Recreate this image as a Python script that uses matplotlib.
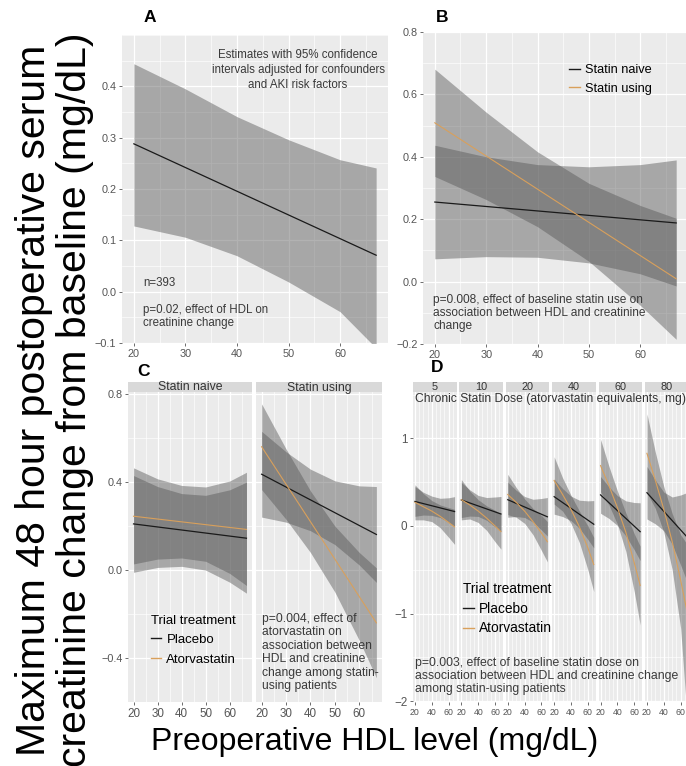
import matplotlib
matplotlib.use('Agg')
import matplotlib.pyplot as plt
from matplotlib.ticker import MultipleLocator
from matplotlib.lines import Line2D

plt.rcParams['font.family'] = ['Liberation Sans', 'DejaVu Sans']

W, H = 686, 766

# HDL positions at which the curves were read
hdl = [20, 30, 40, 50, 60, 67]
hdl_ends = [20, 67]

# panel A
a_line = [0.288, 0.071]
a_upper = [0.444, 0.395, 0.341, 0.296, 0.257, 0.241]
a_lower = [0.128, 0.106, 0.070, 0.019, -0.039, -0.11]

# panel B
b_labels = ['Statin naive', 'Statin using']
b_naive_line = [0.255, 0.188]
b_naive_upper = [0.437, 0.400, 0.375, 0.368, 0.375, 0.390]
b_naive_lower = [0.073, 0.080, 0.078, 0.060, 0.025, -0.014]
b_using_line = [0.509, 0.009]
b_using_upper = [0.681, 0.543, 0.416, 0.315, 0.244, 0.203]
b_using_lower = [0.337, 0.263, 0.176, 0.065, -0.076, -0.185]

# panel C
c_facets = ['Statin naive', 'Statin using']
treatments = ['Placebo', 'Atorvastatin']
c_plac_line = [[0.21, 0.145], [0.436, 0.162]]
c_plac_upper = [[0.43, 0.38, 0.348, 0.34, 0.365, 0.40],
                [0.631, 0.538, 0.459, 0.406, 0.383, 0.380]]
c_plac_lower = [[-0.01, 0.012, 0.017, 0.0, -0.055, -0.105],
                [0.241, 0.218, 0.179, 0.116, 0.023, -0.056]]
c_ator_line = [[0.245, 0.185], [0.561, -0.240]]
c_ator_upper = [[0.465, 0.415, 0.385, 0.378, 0.405, 0.445],
                [0.756, 0.551, 0.360, 0.200, 0.080, 0.010]]
c_ator_lower = [[0.028, 0.05, 0.055, 0.04, -0.015, -0.07],
                [0.366, 0.231, 0.080, -0.100, -0.320, -0.490]]

# panel D
doses = ['5', '10', '20', '40', '60', '80']
d_plac_line = [[0.28, 0.165], [0.297, 0.137], [0.30, 0.105],
               [0.335, 0.02], [0.355, -0.065], [0.38, -0.12]]
d_plac_upper = [[0.45, 0.385, 0.341, 0.316, 0.322, 0.335],
                [0.497, 0.413, 0.349, 0.325, 0.331, 0.337],
                [0.50, 0.408, 0.337, 0.305, 0.314, 0.325],
                [0.535, 0.428, 0.341, 0.294, 0.287, 0.29],
                [0.565, 0.446, 0.346, 0.287, 0.268, 0.265],
                [0.68, 0.524, 0.387, 0.331, 0.354, 0.38]]
d_plac_lower = [[0.11, 0.125, 0.121, 0.096, 0.042, -0.005],
                [0.097, 0.113, 0.109, 0.065, -0.009, -0.063],
                [0.10, 0.108, 0.097, 0.045, -0.046, -0.115],
                [0.135, 0.108, 0.061, -0.026, -0.153, -0.25],
                [0.145, 0.086, 0.006, -0.113, -0.272, -0.395],
                [0.08, 0.024, -0.053, -0.209, -0.446, -0.62]]
d_ator_line = [[0.27, 0.22, 0.17, 0.11, 0.04, -0.01],
               [0.30, 0.24, 0.17, 0.09, 0.0, -0.065],
               [0.36, 0.27, 0.17, 0.05, -0.08, -0.18],
               [0.52, 0.36, 0.19, -0.01, -0.25, -0.44],
               [0.69, 0.46, 0.21, -0.07, -0.42, -0.68],
               [0.83, 0.52, 0.19, -0.18, -0.62, -0.95]]
d_ator_upper = [[0.47, 0.37, 0.29, 0.24, 0.21, 0.19],
                [0.53, 0.40, 0.30, 0.23, 0.18, 0.135],
                [0.59, 0.44, 0.31, 0.20, 0.12, 0.05],
                [0.79, 0.55, 0.35, 0.17, 0.0, -0.13],
                [0.99, 0.68, 0.40, 0.15, -0.09, -0.23],
                [1.28, 0.84, 0.45, 0.14, -0.10, -0.20]]
d_ator_lower = [[0.07, 0.07, 0.05, -0.02, -0.13, -0.21],
                [0.07, 0.08, 0.04, -0.05, -0.18, -0.265],
                [0.13, 0.10, 0.03, -0.10, -0.28, -0.41],
                [0.25, 0.17, 0.03, -0.19, -0.50, -0.75],
                [0.39, 0.24, 0.02, -0.29, -0.75, -1.13],
                [0.38, 0.20, -0.07, -0.50, -1.17, -2.10]]

BG = '#ebebeb'
BAND = '#555555'
BLACK = '#1a1a1a'
ORANGE = '#d9a05b'
TICK = '#555555'
TXT = '#3a3a3a'
XLIM = (17.7, 69.3)

fig = plt.figure(figsize=(W / 100, H / 100), dpi=100)


def add_ax(x0, y0, x1, y1):
    return fig.add_axes([x0 / W, 1 - y1 / H, (x1 - x0) / W, (y1 - y0) / H])


def style(ax, xmaj, xmin, ymaj, ymin, xsize=7.8, ysize=7.8):
    ax.set_facecolor(BG)
    for s in ax.spines.values():
        s.set_visible(False)
    ax.xaxis.set_major_locator(MultipleLocator(xmaj))
    ax.xaxis.set_minor_locator(MultipleLocator(xmin))
    ax.yaxis.set_major_locator(MultipleLocator(ymaj))
    ax.yaxis.set_minor_locator(MultipleLocator(ymin))
    ax.grid(which='major', color='white', lw=0.9)
    ax.grid(which='minor', color='white', lw=0.45)
    ax.set_axisbelow(True)
    ax.tick_params(which='major', length=2.5, width=0.6, color=TICK, pad=1.5)
    ax.tick_params(axis='x', labelsize=xsize, labelcolor=TICK)
    ax.tick_params(axis='y', labelsize=ysize, labelcolor=TICK)
    ax.tick_params(which='minor', length=0)
    ax.set_xlim(*XLIM)


def band(ax, lo, hi):
    ax.fill_between(hdl, lo, hi, color=BAND, alpha=0.45, lw=0)


def strip(x0, x1, label, size=8.8):
    s = add_ax(x0, 382, x1, 392)
    s.set_facecolor('#d9d9d9')
    s.set_xticks([])
    s.set_yticks([])
    for sp in s.spines.values():
        sp.set_visible(False)
    s.text(0.5, 0.45, label, transform=s.transAxes, ha='center', va='center',
           fontsize=size, color='#333333')


def ftext(x, y, s, **kw):
    kw.setdefault('fontsize', 8.5)
    kw.setdefault('color', TXT)
    fig.text(x / W, 1 - y / H, s, **kw)


def treat_legend(x, y, spacing, size):
    handles = [Line2D([], [], color=BLACK, lw=1), Line2D([], [], color=ORANGE, lw=1)]
    fig.legend(handles, treatments, title='Trial treatment', loc='upper left',
               bbox_to_anchor=(x / W, 1 - y / H), frameon=False, fontsize=size,
               title_fontsize=size, alignment='left', handlelength=0.8,
               handletextpad=0.4, borderpad=0, labelspacing=spacing)


# ---- A ----
ax = add_ax(122, 35, 388, 343)
style(ax, 10, 5, 0.1, 0.05)
ax.set_ylim(-0.1, 0.5)
ax.set_yticks([-0.1, 0.0, 0.1, 0.2, 0.3, 0.4])
band(ax, a_lower, a_upper)
ax.plot(hdl_ends, a_line, color=BLACK, lw=0.9)

# ---- B ----
ax = add_ax(423, 32, 688, 344)
style(ax, 10, 5, 0.2, 0.1)
ax.set_ylim(-0.2, 0.8)
band(ax, b_naive_lower, b_naive_upper)
band(ax, b_using_lower, b_using_upper)
ax.plot(hdl_ends, b_naive_line, color=BLACK, lw=0.9)
ax.plot(hdl_ends, b_using_line, color=ORANGE, lw=0.8)
handles = [Line2D([], [], color=BLACK, lw=1), Line2D([], [], color=ORANGE, lw=1)]
ax.legend(handles, b_labels, loc='upper left', bbox_to_anchor=(563 / W, 1 - 58 / H),
          bbox_transform=fig.transFigure, frameon=False, fontsize=9.2,
          handlelength=0.8, handletextpad=0.4, borderpad=0, labelspacing=0.5)

# ---- C ----
c_cols = [(128, 252), (256, 382)]
for i, (x0, x1) in enumerate(c_cols):
    ax = add_ax(x0, 392, x1, 702)
    style(ax, 10, 5, 0.4, 0.2, xsize=8.4)
    ax.set_ylim(-0.6, 0.81)
    band(ax, c_plac_lower[i], c_plac_upper[i])
    band(ax, c_ator_lower[i], c_ator_upper[i])
    ax.plot(hdl_ends, c_plac_line[i], color=BLACK, lw=0.9)
    ax.plot(hdl_ends, c_ator_line[i], color=ORANGE, lw=0.8)
    if i > 0:
        ax.tick_params(axis='y', left=False, labelleft=False)
    strip(x0, x1, c_facets[i])
treat_legend(144, 608, 0.55, 9.5)

# ---- D ----
for i, dose in enumerate(doses):
    x0 = 413 + i * 46.4
    x1 = x0 + 43.5
    ax = add_ax(x0, 392, x1, 702)
    style(ax, 20, 5, 1, 0.5, xsize=6.3, ysize=8.4)
    ax.set_ylim(-2.01, 1.53)
    band(ax, d_plac_lower[i], d_plac_upper[i])
    band(ax, d_ator_lower[i], d_ator_upper[i])
    ax.plot(hdl_ends, d_plac_line[i], color=BLACK, lw=0.9)
    ax.plot(hdl, d_ator_line[i], color=ORANGE, lw=0.8)
    ax.set_xticks([20, 40, 60])
    if i > 0:
        ax.tick_params(axis='y', left=False, labelleft=False)
    strip(x0, x1, dose, size=7.8)
treat_legend(456, 575, 0.42, 9.9)

# ---- annotations ----
ftext(298, 70, 'Estimates with 95% confidence\nintervals adjusted for confounders\nand AKI risk factors',
      ha='center', va='center', multialignment='center', fontsize=8.3, linespacing=1.3)
ftext(143, 283, 'n=393', ha='left', va='center', fontsize=8.3)
ftext(143, 316.5, 'p=0.02, effect of HDL on\ncreatinine change', ha='left', va='center',
      fontsize=8.3, linespacing=1.1)
ftext(433, 313, 'p=0.008, effect of baseline statin use on\nassociation between HDL and creatinine\nchange',
      ha='left', va='center', fontsize=8.6, linespacing=1.1)
ftext(262, 652.5, 'p=0.004, effect of\natorvastatin on\nassociation between\nHDL and creatinine\n'
      'change among statin-\nusing patients', ha='left', va='center', fontsize=8.7, linespacing=1.17)
ftext(415, 676, 'p=0.003, effect of baseline statin dose on\nassociation between HDL and creatinine change\n'
      'among statin-using patients', ha='left', va='center', fontsize=8.8, linespacing=1.08)
ftext(415, 399, 'Chronic Statin Dose (atorvastatin equivalents, mg)', ha='left', va='center',
      fontsize=8.7, color='#333333')

for letter, x, y in [('A', 150, 18), ('B', 442, 18), ('C', 143, 372), ('D', 437, 368)]:
    ftext(x, y, letter, ha='center', va='center', fontsize=12.5, fontweight='bold', color='black')

ftext(55, 400, 'Maximum 48 hour postoperative serum\ncreatinine change from baseline (mg/dL)',
      rotation=90, ha='center', va='center', multialignment='center', fontsize=29.5,
      color='black', linespacing=1.1)
ftext(375, 750, 'Preoperative HDL level (mg/dL)', ha='center', va='baseline', fontsize=23,
      color='black')

fig.savefig('out.png', dpi=100)
